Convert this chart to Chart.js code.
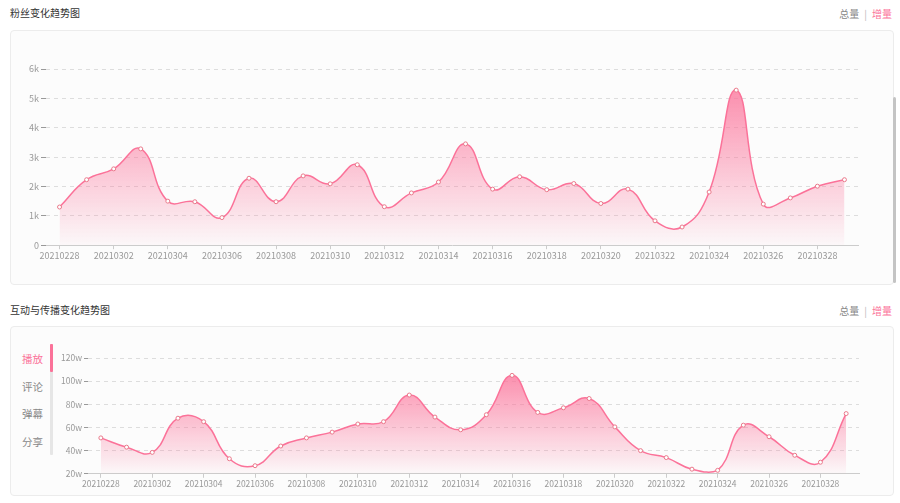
<!DOCTYPE html>
<html>
<head>
<meta charset="utf-8">
<script src="https://cdn.jsdelivr.net/npm/chart.js@4.4.1/dist/chart.umd.min.js"></script>
<style>
  html,body{margin:0;padding:0;background:#fff;}
  body{width:900px;height:503px;position:relative;overflow:hidden;font-family:"Noto Sans CJK SC","Noto Sans",sans-serif;}
  .title{position:absolute;left:10px;font-size:10px;color:#333;}
  .switch{position:absolute;right:8px;font-size:10px;color:#888;}
  .switch .on{color:#fb7299;}
  .switch .sep{color:#bbb;margin:0 5px;}
  .card{position:absolute;left:10px;width:882px;border:1px solid #ececec;border-radius:4px;background:#fcfcfc;}
  .cv{position:absolute;}
  .tab{position:absolute;left:22px;font-size:10.5px;color:#888;width:30px;}
  .tab.on{color:#fb7299;}
  .bar{position:absolute;left:50px;width:3px;background:#e6e6e6;border-radius:1px;}
  .scroll{position:absolute;left:893px;top:97px;width:3px;height:186px;background:#c4c4c4;border-radius:2px;}
</style>
</head>
<body>
<div class="title" style="top:5px">粉丝变化趋势图</div>
<div class="switch" style="top:6px"><span>总量</span><span class="sep">|</span><span class="on">增量</span></div>
<div class="card" style="top:30px;height:253px"></div>
<div class="scroll"></div>
<canvas class="cv" id="fans" width="883" height="252" style="left:10px;top:31px;width:883px;height:252px"></canvas>

<div class="title" style="top:302px">互动与传播变化趋势图</div>
<div class="switch" style="top:303px"><span>总量</span><span class="sep">|</span><span class="on">增量</span></div>
<div class="card" style="top:326px;height:168px"></div>
<div class="tab on" style="top:351px">播放</div>
<div class="tab" style="top:379px">评论</div>
<div class="tab" style="top:406px">弹幕</div>
<div class="tab" style="top:434px">分享</div>
<div class="bar" style="top:344px;height:111px"></div>
<div class="bar" style="top:344px;height:28px;background:#fb7299"></div>
<canvas class="cv" id="play" width="838" height="168" style="left:55px;top:327px;width:838px;height:168px"></canvas>

<script>
const dates = ['20210228','20210301','20210302','20210303','20210304','20210305','20210306','20210307','20210308','20210309',
  '20210310','20210311','20210312','20210313','20210314','20210315','20210316','20210317','20210318','20210319',
  '20210320','20210321','20210322','20210323','20210324','20210325','20210326','20210327','20210328','20210329'];
// 粉丝增量
const fansVals = [1300,2230,2600,3280,1500,1480,940,2280,1480,2360,
  2090,2740,1310,1780,2150,3450,1910,2330,1890,2100,
  1420,1910,830,620,1810,5280,1400,1610,2010,2230];
const fansTicks = [0,1000,2000,3000,4000,5000,6000];
// 播放增量 (w)
const playVals = [51,43,38.5,68,65,33,27,44,51,56,
  63,65,88,69,58,71,105,73,77,85,
  60.5,40,34,24,23,62,52,36,30,72];
const playTicks = [20,40,60,80,100,120];

const pink = '#fb7299';
const tickFont = {family:'"Noto Sans CJK SC","Noto Sans",sans-serif', size:9};

function gradFill(vals){
  return ctx=>{
    const ch = ctx.chart, area = ch.chartArea;
    if(!area) return 'rgba(251,114,153,0.3)';
    const top = ch.scales.y.getPixelForValue(Math.max(...vals));
    const g = ch.ctx.createLinearGradient(0, top, 0, area.bottom);
    g.addColorStop(0, 'rgba(251,114,153,0.78)');
    g.addColorStop(1, 'rgba(251,114,153,0.03)');
    return g;
  };
}

function makeChart(id, vals, yTicks, fmt, yWidth, tlen, pad, fsize){
  const pts = vals.map((v,i)=>({x:i, y:v}));
  return new Chart(document.getElementById(id), {
    type:'line',
    data:{ datasets:[{
      data:pts, borderColor:pink, borderWidth:1.5, tension:0.45,
      fill:'start', backgroundColor:gradFill(vals),
      pointRadius:2, pointBackgroundColor:'#fff', pointBorderColor:'#e9788a', pointBorderWidth:1
    }]},
    options:{
      responsive:false, animation:false,
      layout:{ padding:pad },
      plugins:{ legend:{display:false}, tooltip:{enabled:false} },
      scales:{
        x:{
          type:'linear', min:-0.5, max:dates.length-0.5,
          afterBuildTicks:s=>{ s.ticks = dates.map((d,i)=>i).filter(i=>i%2===0).map(v=>({value:v})); },
          ticks:{ callback:v=>dates[v], color:'#999', font:Object.assign({}, tickFont, {size:fsize}), padding:1, maxRotation:0, autoSkip:false },
          grid:{ drawOnChartArea:false, drawTicks:true, tickLength:4, color:'#ccc' },
          border:{ color:'#ccc', width:1 }
        },
        y:{
          min:yTicks[0], max:yTicks[yTicks.length-1],
          afterBuildTicks:s=>{ s.ticks = yTicks.map(v=>({value:v})); },
          afterFit:s=>{ s.width = yWidth; },
          ticks:{ callback:fmt, color:'#999', font:Object.assign({}, tickFont, {size:fsize}), padding:pad.tp },
          grid:{ color:'#ddd', tickLength:tlen, tickColor:'#999', tickBorderDash:[], drawTicks:true },
          border:{ display:false, dash:[4,4] }
        }
      }
    }
  });
}

makeChart('fans', fansVals, fansTicks, v=>v===0?'0':(v/1000)+'k', 36, 5,
  {left:0, right:35, top:38, bottom:21, tp:2}, 9);
makeChart('play', playVals, playTicks, v=>v+'w', 33, 4,
  {left:0, right:34, top:31, bottom:5, tp:2}, 8.5);
</script>
</body>
</html>
